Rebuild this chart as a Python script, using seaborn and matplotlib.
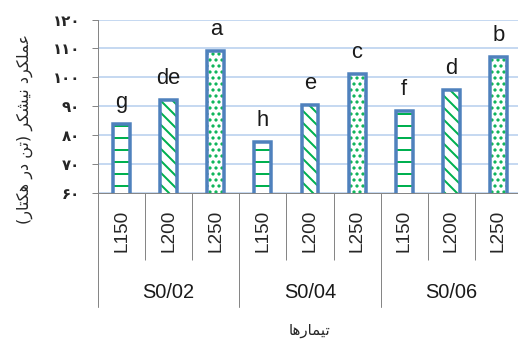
import numpy as np
import pandas as pd
import matplotlib
matplotlib.use('Agg')
import matplotlib.pyplot as plt
from matplotlib.patches import Rectangle
from matplotlib.transforms import blended_transform_factory
import seaborn as sns

# data
treatments = ['S0/02', 'S0/04', 'S0/06']
levels = ['L150', 'L200', 'L250']
yield_vals = [84, 92, 109, 77.5, 90.5, 101.3, 88.3, 95.5, 107]
letters = ['g', 'de', 'a', 'h', 'e', 'c', 'f', 'd', 'b']
y_ticks = [60, 70, 80, 90, 100, 110, 120]

ylabel_fa = 'عملکرد نیشکر (تن در هکتار)'
xlabel_fa = 'تیمارها'

# arabic presentation forms: isolated, final, initial, medial
FORMS = {
    'ع': '\uFEC9\uFECA\uFECB\uFECC', 'م': '\uFEE1\uFEE2\uFEE3\uFEE4',
    'ل': '\uFEDD\uFEDE\uFEDF\uFEE0', 'ک': '\uFB8E\uFB8F\uFB90\uFB91',
    'ن': '\uFEE5\uFEE6\uFEE7\uFEE8', 'ی': '\uFBFC\uFBFD\uFBFE\uFBFF',
    'ش': '\uFEB5\uFEB6\uFEB7\uFEB8', 'ت': '\uFE95\uFE96\uFE97\uFE98',
    'ه': '\uFEE9\uFEEA\uFEEB\uFEEC',
    'ر': '\uFEAD\uFEAE', 'د': '\uFEA9\uFEAA', 'ا': '\uFE8D\uFE8E',
}


def shape(s):
    # matplotlib has no shaping/bidi, so do it by hand
    out = []
    for i, c in enumerate(s):
        if c not in FORMS:
            out.append(c)
            continue
        f = FORMS[c]
        prev = s[i - 1] if i > 0 else ''
        nxt = s[i + 1] if i + 1 < len(s) else ''
        jp = prev in FORMS and len(FORMS[prev]) == 4
        jn = len(f) == 4 and nxt in FORMS
        if jp and jn:
            out.append(f[3])
        elif jp:
            out.append(f[1])
        elif jn:
            out.append(f[2])
        else:
            out.append(f[0])
    return ''.join(out)[::-1].translate(str.maketrans('()', ')('))


def fa_digits(n):
    return str(n).translate(str.maketrans('0123456789', '۰۱۲۳۴۵۶۷۸۹'))


bars = [t + ' ' + l for t in treatments for l in levels]
df = pd.DataFrame({'bar': bars, 'yield': yield_vals,
                   'level': [l for t in treatments for l in levels]})

sns.set_style('white')
plt.rcParams['font.family'] = ['Liberation Sans', 'DejaVu Sans']
plt.rcParams['hatch.linewidth'] = 2.0

green = '#00B050'
blue = '#4F81BD'
gray = '#868686'
hatch_map = {'L150': '-', 'L200': '\\\\', 'L250': '..'}

fig = plt.figure(figsize=(518 / 72, 339 / 72), dpi=72)
ax = fig.add_axes([98 / 518, 1 - 193 / 339, 424 / 518, 173.5 / 339])

sns.barplot(data=df, x='bar', y='yield', order=bars, width=0.36,
            color='white', edgecolor=green, linewidth=0, ax=ax, zorder=2)

for p, lev, let in zip(ax.patches, df['level'], letters):
    p.set_hatch(hatch_map[lev])
    p.set_facecolor('white')
    ax.add_patch(Rectangle(p.get_xy(), p.get_width(), p.get_height(),
                           fill=False, ec=blue, lw=3.5, zorder=3))
    ax.annotate(let, (p.get_x() + p.get_width() / 2, p.get_y() + p.get_height()),
                xytext=(0, 16), textcoords='offset points', ha='center',
                va='baseline', fontsize=22, color='#1a1a1a')

ax.set_ylim(60, 120)
ax.set_xlim(-0.5, 8.5)
ax.set_yticks(y_ticks)
ax.set_yticklabels([fa_digits(v) for v in y_ticks], family='DejaVu Sans',
                   fontweight='bold', fontsize=15)
ax.yaxis.grid(True, color='#C6D9F1', lw=2, zorder=0)
ax.set_axisbelow(True)

ax.set_xticks(range(len(bars)))
ax.set_xticklabels([l for t in treatments for l in levels], rotation=90,
                   fontsize=19)
ax.set_xticks(np.arange(-0.5, 9, 1), minor=True)
ax.tick_params(axis='x', which='major', length=0, pad=17)
ax.tick_params(axis='x', which='minor', length=67, width=1, color=gray,
               direction='out', bottom=True)
ax.tick_params(axis='y', length=6, width=1, color=gray, direction='out',
               left=True, pad=12)
ax.set_xlabel('')
ax.set_ylabel('')

for side in ['top', 'right']:
    ax.spines[side].set_visible(False)
for side in ['left', 'bottom']:
    ax.spines[side].set_color(gray)
    ax.spines[side].set_linewidth(1)

trans = blended_transform_factory(ax.transData, ax.transAxes)
for k, t in enumerate(treatments):
    ax.plot([3 * k - 0.5] * 2, [0, -0.657], transform=trans, color=gray,
            lw=1, clip_on=False)
    ax.text(3 * k + 1, -0.575, t, transform=trans, ha='center', va='center',
            fontsize=20, color='#1a1a1a')

ax.text(0.5, -0.79, shape(xlabel_fa), transform=ax.transAxes, ha='center',
        va='center', fontsize=15, family='DejaVu Sans')
fig.text(25 / 518, 1 - 129 / 339, shape(ylabel_fa), rotation=90, ha='center',
         va='center', fontsize=16, family='DejaVu Sans')

fig.savefig('out.png', dpi=72)
